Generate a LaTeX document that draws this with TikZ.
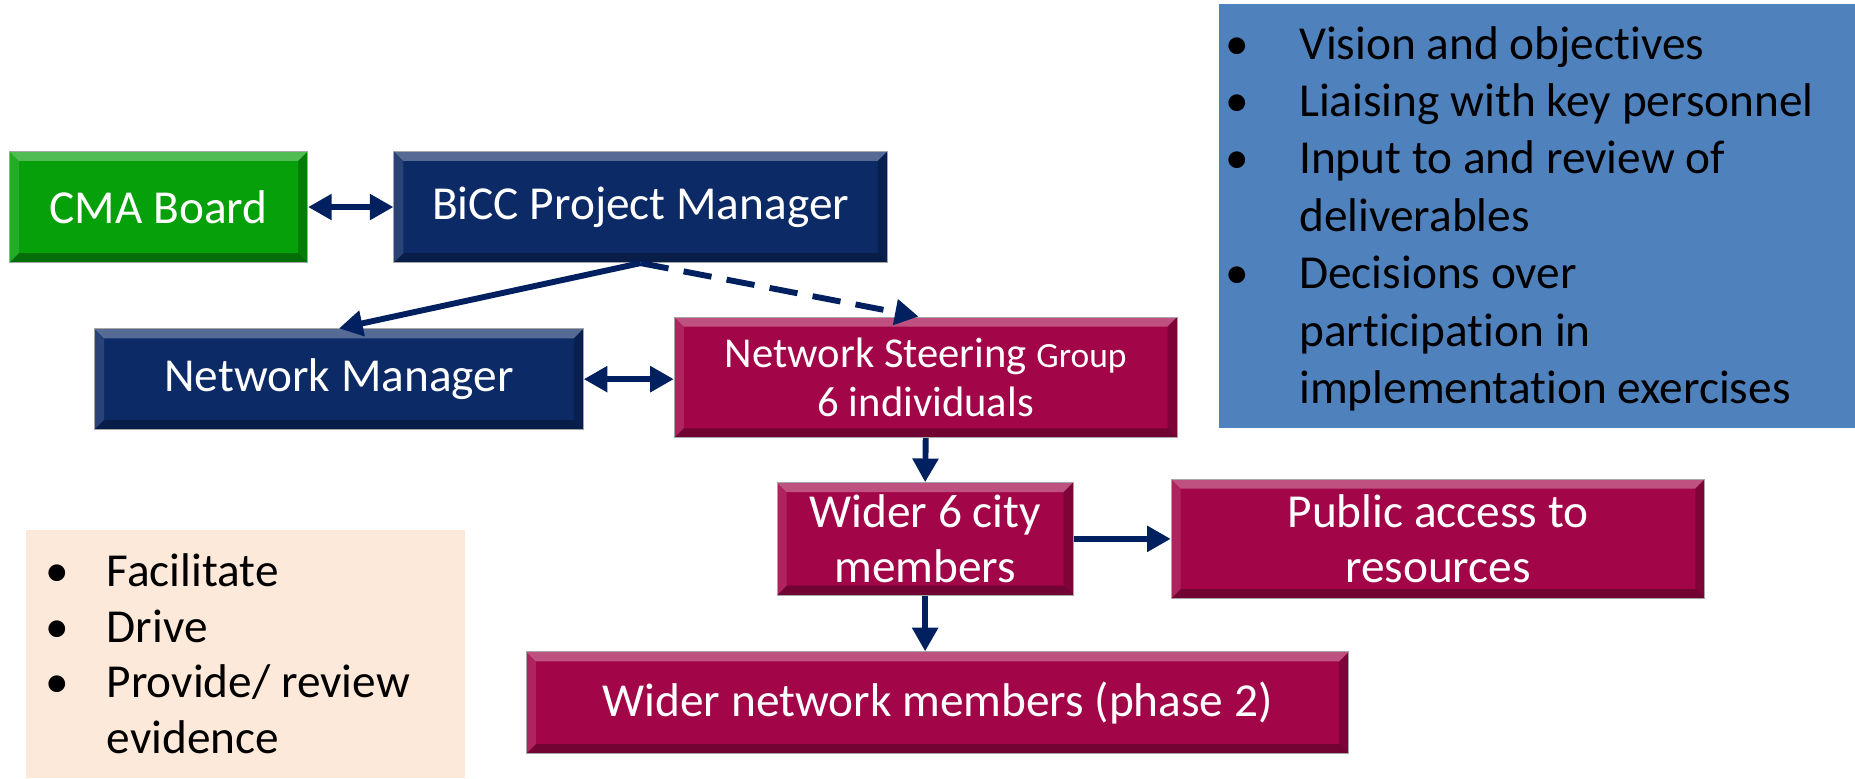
\documentclass[tikz,border=0pt]{standalone}
\usepackage{fontspec}
\setmainfont{Carlito}[Ligatures=NoCommon]
\usetikzlibrary{arrows.meta}
\definecolor{boxgreen}{RGB}{6,160,10}
\definecolor{boxnavy}{RGB}{12,42,102}
\definecolor{boxmaroon}{RGB}{162,6,72}
\definecolor{arrownavy}{RGB}{0,32,96}
\definecolor{infoblue}{RGB}{79,129,189}
\definecolor{peach}{RGB}{253,233,217}
\tikzset{
  bevel/.style={path picture={
    \path (path picture bounding box.north west) coordinate (pA)
          (path picture bounding box.north east) coordinate (pB)
          (path picture bounding box.south east) coordinate (pC)
          (path picture bounding box.south west) coordinate (pD);
    \fill[white,opacity=.30] (pA) -- (pB) -- ([shift={(-8pt,-8pt)}]pB) -- ([shift={(8pt,-8pt)}]pA) -- cycle;
    \fill[white,opacity=.12] (pA) -- ([shift={(8pt,-8pt)}]pA) -- ([shift={(8pt,8pt)}]pD) -- (pD) -- cycle;
    \fill[black,opacity=.30] (pD) -- (pC) -- ([shift={(-8pt,8pt)}]pC) -- ([shift={(8pt,8pt)}]pD) -- cycle;
    \fill[black,opacity=.22] (pB) -- (pC) -- ([shift={(-8pt,8pt)}]pC) -- ([shift={(-8pt,-8pt)}]pB) -- cycle;
  }},
  box/.style={bevel, draw=black!35, line width=0.8pt, text=white, align=center,
    inner sep=0pt, font=\fontsize{40}{47}\selectfont},
  greenbox/.style={box, fill=boxgreen},
  navybox/.style={box, fill=boxnavy},
  maroonbox/.style={box, fill=boxmaroon},
  arr/.style={draw=arrownavy, line width=5pt, -{Triangle[length=20pt,width=21pt]}},
  darr/.style={draw=arrownavy, line width=5pt, {Triangle[length=20pt,width=21pt]}-{Triangle[length=20pt,width=21pt]}},
  listtext/.style={anchor=base west, inner sep=0pt, text=black, font=\fontsize{40}{48}\selectfont},
}
\begin{document}
\begin{tikzpicture}[x=1pt,y=-1pt]
\useasboundingbox (0,0) rectangle (1568,658);

% info panels
\node[fill=infoblue, minimum width=538pt, minimum height=359pt, inner sep=0pt] (blue) at (1299,182.5) {};
\node[fill=peach, minimum width=371pt, minimum height=210pt, inner sep=0pt] (peachbox) at (207.5,553) {};

% blue list
\node[listtext] (b1) at (1036,50) {•};
\node[listtext] (t1) at (1098,50) {Vision and objectives};
\node[listtext] (b2) at (1036,98.5) {•};
\node[listtext] (t2) at (1098,98.5) {Liaising with key personnel};
\node[listtext] (b3) at (1036,147) {•};
\node[listtext] (t3) at (1098,147) {Input to and review of};
\node[listtext] (t3b) at (1098,195.5) {deliverables};
\node[listtext] (b4) at (1036,244) {•};
\node[listtext] (t4) at (1098,244) {Decisions over};
\node[listtext] (t4b) at (1098,292.5) {participation in};
\node[listtext] (t4c) at (1098,341) {implementation exercises};

% peach list
\node[listtext] (p1b) at (38,496) {•};
\node[listtext] (p1) at (90,496) {Facilitate};
\node[listtext] (p2b) at (38,543) {•};
\node[listtext] (p2) at (90,543) {Drive};
\node[listtext] (p3b) at (38,590) {•};
\node[listtext] (p3) at (90,590) {Provide/ review};
\node[listtext] (p3c) at (90,637) {evidence};

% boxes
\node[greenbox, minimum width=252pt, minimum height=94pt] (cma) at (134,175) {CMA Board};
\node[navybox, minimum width=417pt, minimum height=94pt] (bicc) at (541.5,175) {BiCC Project Manager};
\node[navybox, minimum width=413pt, minimum height=85pt] (nm) at (286.5,320.5) {Network Manager};
\node[maroonbox, minimum width=425pt, minimum height=102pt, font=\fontsize{36}{41}\selectfont] (nsg) at (782.5,319)
  {Network Steering {\fontsize{30}{41}\selectfont Group}\\6 individuals};
\node[maroonbox, minimum width=250pt, minimum height=95pt] (w6) at (782,455.5) {Wider 6 city\\members};
\node[maroonbox, minimum width=451pt, minimum height=101pt] (pub) at (1215.5,455.5) {Public access to\\resources};
\node[maroonbox, minimum width=695pt, minimum height=86pt] (wnm) at (792.5,594) {Wider network members (phase 2)};

% connectors
\draw[darr] (cma.east) -- (bicc.west);
\draw[arr] (bicc.south) -- (nm.north);
\draw[arr, dash pattern=on 24pt off 13pt] (bicc.south) -- ([xshift=-6pt]nsg.north);
\draw[darr] (nm.east) -- (nm.east -| nsg.west);
\draw[arr] (nsg.south) -- (w6.north);
\draw[arr] (w6.east) -- (pub.west);
\draw[arr] (w6.south) -- (w6.south |- wnm.north);
\end{tikzpicture}
\end{document}
